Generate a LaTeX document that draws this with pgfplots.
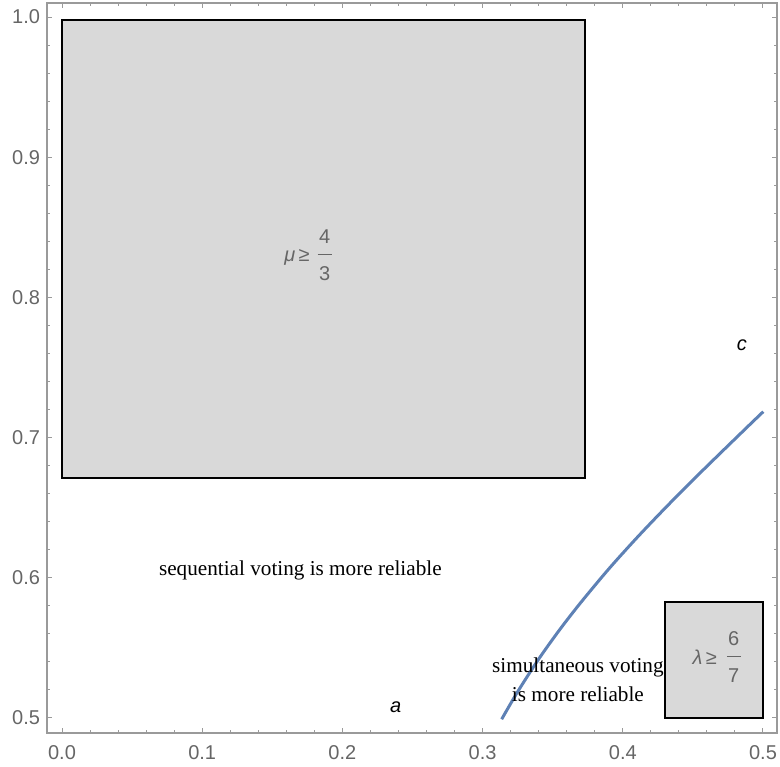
\documentclass[border=0pt]{standalone}
\usepackage{fontspec}
\setmainfont{Liberation Serif}
\newfontfamily\arial{Liberation Sans}
\usepackage{pgfplots}
\pgfplotsset{compat=1.18}

\definecolor{boxgray}{HTML}{D9D9D9}
\definecolor{curveblue}{HTML}{5E81B5}
\definecolor{framegray}{HTML}{9A9A9A}
\definecolor{labelgray}{HTML}{666666}

% stacked fraction in the text font
\newcommand{\tfrac}[2]{\begin{tabular}{@{}c@{}}#1\\[-2.75pt]\rule[3.5pt]{7pt}{0.5pt}\\[-2.75pt]#2\end{tabular}}

\begin{document}
\begin{tikzpicture}
\begin{axis}[
  scale only axis,
  width=365pt, height=365pt,
  xmin=-0.0107, xmax=0.510,
  ymin=0.4893, ymax=1.010,
  xtick={0,0.1,0.2,0.3,0.4,0.5},
  ytick={0.5,0.6,0.7,0.8,0.9,1.0},
  minor x tick num=4,
  minor y tick num=4,
  tick align=inside,
  major tick length=2.5pt,
  minor tick length=1.5pt,
  axis line style={framegray, line width=0.6pt},
  every tick/.style={framegray, line width=0.5pt},
  tick label style={font=\arial\fontsize{10}{12}\selectfont, text=labelgray},
  xticklabel style={yshift=-2.5pt},
  /pgf/number format/.cd, fixed, fixed zerofill, precision=1, assume math mode=true,
]

% shaded regions
\addplot[fill=boxgray, draw=black, line width=1pt] coordinates {
  (0,0.671) (0.373,0.671) (0.373,0.998) (0,0.998)
} -- cycle;
\addplot[fill=boxgray, draw=black, line width=1pt] coordinates {
  (0.430,0.5) (0.5,0.5) (0.5,0.583) (0.430,0.583)
} -- cycle;

% boundary curve
\addplot[curveblue, line width=1.5pt, smooth] coordinates {
  (0.3136,0.4991) (0.325,0.5187) (0.340,0.5420) (0.355,0.5630)
  (0.370,0.5823) (0.390,0.6063) (0.410,0.6285) (0.430,0.6495)
  (0.450,0.6697) (0.470,0.6893) (0.490,0.7087) (0.5002,0.7185)
};

\node[font=\fontsize{10.6}{12}\selectfont] at (axis cs:0.170,0.605) {sequential voting is more reliable};
\node[font=\fontsize{10.6}{12}\selectfont, align=center, inner sep=0pt] at (axis cs:0.368,0.527)
  {simultaneous voting\\[2.5pt]is more reliable};
\node[font=\arial\itshape\fontsize{10}{12}\selectfont] at (axis cs:0.238,0.508) {a};
\node[font=\arial\itshape\fontsize{10}{12}\selectfont] at (axis cs:0.485,0.766) {c};
\node[font=\arial\fontsize{10}{12}\selectfont, text=labelgray] at (axis cs:0.1755,0.829)
  {{\itshape μ}\,≥\hspace{4pt}\tfrac{4}{3}};
\node[font=\arial\fontsize{10}{12}\selectfont, text=labelgray] at (axis cs:0.467,0.542)
  {{\itshape λ}\,≥\hspace{5pt}\tfrac{6}{7}};
\end{axis}
\pgfresetboundingbox
\path (current axis.south west) +(-23.5pt,-17pt) (current axis.north east) +(1.5pt,1.5pt);
\end{tikzpicture}
\end{document}
